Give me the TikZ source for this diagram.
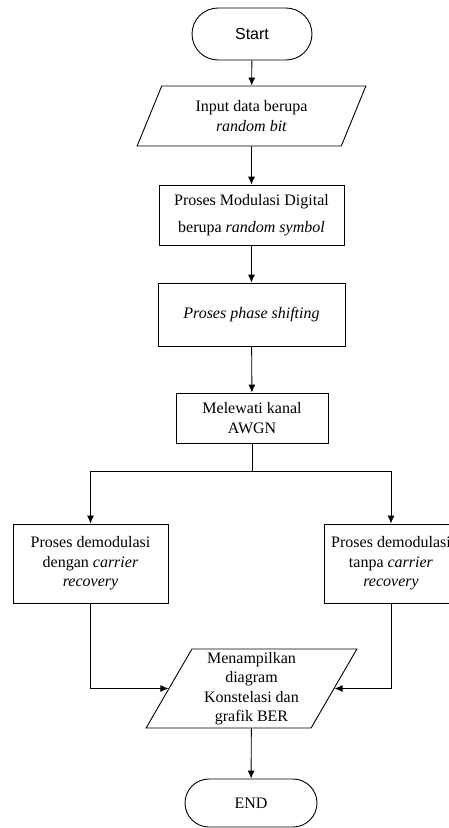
\documentclass[tikz,border=0pt]{standalone}
\usepackage{fontspec}
\setmainfont{Liberation Serif}
\newfontfamily\startfont{Liberation Sans}
\usetikzlibrary{arrows.meta}
\usetikzlibrary{shapes.geometric}

\begin{document}
\begin{tikzpicture}[x=1pt,y=1pt,>={Latex[length=8pt,width=7pt]},
		every node/.style={font=\fontsize{16}{19.5}\selectfont,align=center,inner sep=0pt},
		term/.style={draw,rectangle,rounded corners=#1,line width=0.9pt},
		proc/.style={draw,rectangle,line width=0.9pt},
		io/.style={draw,trapezium,trapezium left angle=63.5,trapezium right angle=116.5,trapezium stretches=true,line width=0.9pt},
		flow/.style={->,line width=0.9pt}]
		\useasboundingbox (0,0) rectangle (448,-828);
		\node[term=26pt,minimum width=120pt,minimum height=52pt] (start) at (252,-34) {\startfont Start};
		\node[io,minimum width=229pt,minimum height=60pt] (in) at (251.5,-116) {Input data berupa\\ \textit{random bit}};
		\node[proc,minimum width=185pt,minimum height=60pt] (mod) at (251.5,-215) {Proses Modulasi Digital\\[7pt] berupa \textit{random symbol}};
		\node[proc,minimum width=187pt,minimum height=63pt] (phase) at (251.5,-314.5) {\textit{Proses phase shifting}};
		\node[proc,minimum width=152pt,minimum height=50pt] (awgn) at (252,-418) {Melewati kanal\\ AWGN};
		\coordinate (split) at (252,-471);
		\node[proc,minimum width=155pt,minimum height=79pt] (demodA) at (90.5,-563.5) {Proses demodulasi\\ dengan \textit{carrier}\\ \textit{recovery}};
		\node[proc,minimum width=134pt,minimum height=79pt] (demodB) at (391,-563.5) {Proses demodulasi\\ tanpa \textit{carrier}\\ \textit{recovery}};
		\node[io,minimum width=211pt,minimum height=79pt] (out) at (251.5,-688.5) {Menampilkan\\ diagram\\ Konstelasi dan\\ grafik BER};
		\node[term=24pt,minimum width=132pt,minimum height=48pt] (end) at (251,-803) {END};
		\draw[flow] (start) -- (in);
		\draw[flow] (in) -- (mod);
		\draw[flow] (mod) -- (phase);
		\draw[flow] (phase) -- (awgn);
		\draw[line width=0.9pt] (awgn) -- (split);
		\draw[flow] (split) -| (demodA);
		\draw[flow] (split) -| (demodB);
		\draw[flow] (demodA) |- (out.west);
		\draw[flow] (demodB) |- (out.east);
		\draw[flow] (out) -- (end);
	\end{tikzpicture}
\end{document}
